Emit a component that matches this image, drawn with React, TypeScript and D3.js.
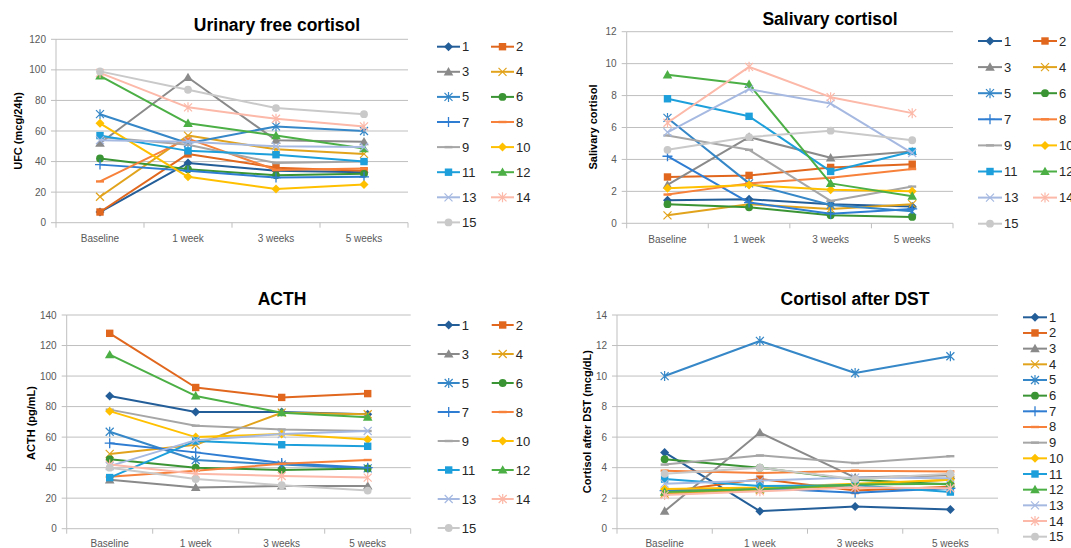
import React from 'react'
import * as d3 from 'd3'

const CATEGORIES = ['Baseline', '1 week', '3 weeks', '5 weeks']
const SERIES = ['1', '2', '3', '4', '5', '6', '7', '8', '9', '10', '11', '12', '13', '14', '15']

const COLORS = [
  '#245E99', '#E0671D', '#8A8A8A', '#E2A31C', '#3587C7', '#3A9433', '#2E7DD2', '#F7813A',
  '#A6A6A6', '#FFC000', '#1C9FDB', '#4BAF45', '#A6B9E1', '#FCB8A8', '#C9C9C9',
]
const MARKERS = [
  'diamond', 'square', 'triangle', 'x', 'asterisk', 'circle', 'plus', 'dash',
  'dash', 'diamond', 'square', 'triangle', 'x', 'asterisk', 'circle',
]

const UFC = [
  [7, 39, 34, 33], [7, 45, 36, 34], [52, 95, 54, 53], [17, 57, 48, 45], [71, 52, 63, 60],
  [42, 35, 31, 32], [38, 34, 29.5, 30], [27, 55, 34.5, 35.5], [56, 51, 39, 40], [65, 30, 22, 25],
  [57, 47, 44.5, 40], [96, 65, 57, 48.5], [54, 53, 50, 49.5], [98, 75.5, 68, 63], [99, 87, 75, 71],
]
const SALIVARY = [
  [1.45, 1.5, 1.2, 1.05], [2.9, 3.0, 3.5, 3.7], [2.4, 5.4, 4.1, 4.5], [0.5, 1.2, 0.9, 1.2], [6.6, 2.5, 1.15, 0.75],
  [1.2, 1.0, 0.5, 0.4], [4.2, 1.3, 0.6, 0.9], [1.8, 2.5, 2.85, 3.4], [5.5, 4.6, 1.4, 2.3], [2.2, 2.4, 2.1, 2.0],
  [7.8, 6.7, 3.25, 4.5], [9.3, 8.7, 2.5, 1.7], [5.7, 8.4, 7.5, 4.4], [6.3, 9.8, 7.9, 6.9], [4.6, 5.4, 5.8, 5.2],
]
const ACTH = [
  [87, 76.5, 76.5, 75], [128, 92.5, 86, 88.5], [32, 27, 28, 28], [49, 55, 76, 75], [63.5, 45, 42, 39.5],
  [45.5, 40, 38.5, 39.5], [56, 50, 43, 40], [34, 38, 42.5, 45], [78, 67.5, 65, 64], [77, 60, 62, 58.5],
  [33.5, 57.5, 55, 54], [114, 87, 76, 73], [41, 58, 62, 64], [42, 36, 34.5, 33.5], [40, 32.5, 28.5, 25],
]
const DST = [
  [5.0, 1.15, 1.45, 1.25], [2.4, 3.25, 2.5, 2.75], [1.15, 6.3, 3.35, 3.5], [2.3, 2.55, 2.85, 3.2], [10, 12.3, 10.2, 11.3],
  [4.55, 4.0, 3.2, 2.9], [2.5, 2.65, 2.35, 2.65], [3.8, 3.65, 3.8, 3.75], [4.2, 4.8, 4.3, 4.75], [2.6, 2.7, 2.95, 3.2],
  [3.25, 2.8, 2.85, 2.4], [2.4, 2.6, 2.9, 2.95], [2.95, 3.15, 3.35, 3.3], [2.2, 2.45, 2.7, 2.65], [3.6, 4.0, 3.25, 3.6],
]

const FONT = '"Liberation Sans", Arial, sans-serif'
const GRID = '#BFBFBF'
const TEXT = '#595959'

function Marker({ type, x, y, color }: { type: string; x: number; y: number; color: string }) {
  const s = 4
  switch (type) {
    case 'diamond':
      return <path d={`M${x},${y - s - 0.5}L${x + s + 0.5},${y}L${x},${y + s + 0.5}L${x - s - 0.5},${y}Z`} fill={color} />
    case 'square':
      return <rect x={x - 3.7} y={y - 3.7} width={7.4} height={7.4} fill={color} />
    case 'triangle':
      return <path d={`M${x},${y - 4.8}L${x + 4.8},${y + 3.6}L${x - 4.8},${y + 3.6}Z`} fill={color} />
    case 'circle':
      return <circle cx={x} cy={y} r={3.9} fill={color} />
    case 'x':
      return <path d={`M${x - s},${y - s}L${x + s},${y + s}M${x - s},${y + s}L${x + s},${y - s}`} stroke={color} strokeWidth={1.2} />
    case 'asterisk':
      return <path d={`M${x - s},${y - s}L${x + s},${y + s}M${x - s},${y + s}L${x + s},${y - s}M${x},${y - s - 1}L${x},${y + s + 1}`} stroke={color} strokeWidth={1.2} />
    case 'plus':
      return <path d={`M${x - s - 1},${y}L${x + s + 1},${y}M${x},${y - s - 1}L${x},${y + s + 1}`} stroke={color} strokeWidth={1.3} />
    case 'dash':
      return <path d={`M${x - s},${y}L${x + s},${y}`} stroke={color} strokeWidth={2.4} />
    default:
      return null
  }
}

interface PanelProps {
  title: string
  yTitle: string
  values: number[][]
  yMax: number
  yStep: number
  x0: number
  x1: number
  yTop: number
  yBottom: number
  titleX: number
  titleY: number
  yTitleX: number
  yTitleY: number
  catY: number
  legendX: number[]
  legendY: number
  legendDy: number
  legendLine: number
}

function Panel(p: PanelProps) {
  const x = d3.scaleBand<string>().domain(CATEGORIES).range([p.x0, p.x1]).padding(0)
  const y = d3.scaleLinear().domain([0, p.yMax]).range([p.yBottom, p.yTop])
  const ticks = d3.range(0, p.yMax + p.yStep / 2, p.yStep)
  const cx = (c: string) => (x(c) as number) + x.bandwidth() / 2
  const line = d3.line<number>().x((_, i) => cx(CATEGORIES[i])).y((d) => y(d))
  const boundaries = d3.range(0, CATEGORIES.length + 1).map((i) => p.x0 + i * x.bandwidth())
  const cols = p.legendX.length

  return (
    <g>
      <text x={p.titleX} y={p.titleY} textAnchor="middle" dominantBaseline="central" fontSize={17.5} fontWeight="bold" fill="#000">
        {p.title}
      </text>
      {ticks.map((t) => (
        <g key={t}>
          {t > 0 && <line x1={p.x0} x2={p.x1} y1={y(t)} y2={y(t)} stroke={GRID} strokeWidth={1} />}
          <line x1={p.x0 - 5} x2={p.x0} y1={y(t)} y2={y(t)} stroke={GRID} strokeWidth={1} />
          <text x={p.x0 - 10} y={y(t)} textAnchor="end" dominantBaseline="central" fontSize={10} fill={TEXT}>
            {t}
          </text>
        </g>
      ))}
      <line x1={p.x0} x2={p.x0} y1={p.yTop} y2={p.yBottom} stroke={GRID} strokeWidth={1} />
      <line x1={p.x0} x2={p.x1} y1={p.yBottom} y2={p.yBottom} stroke={GRID} strokeWidth={1} />
      {boundaries.map((b, i) => (
        <line key={i} x1={b} x2={b} y1={p.yBottom} y2={p.yBottom + 5} stroke={GRID} strokeWidth={1} />
      ))}
      {CATEGORIES.map((c) => (
        <text key={c} x={cx(c)} y={p.catY} textAnchor="middle" dominantBaseline="central" fontSize={10} fill={TEXT}>
          {c}
        </text>
      ))}
      <text
        transform={`translate(${p.yTitleX},${p.yTitleY}) rotate(-90)`}
        textAnchor="middle"
        dominantBaseline="central"
        fontSize={11}
        fontWeight="bold"
        fill="#000"
      >
        {p.yTitle}
      </text>
      {p.values.map((vals, si) => (
        <g key={si}>
          <path d={line(vals) || ''} fill="none" stroke={COLORS[si]} strokeWidth={2} strokeLinejoin="round" />
          {vals.map((v, i) => (
            <Marker key={i} type={MARKERS[si]} x={cx(CATEGORIES[i])} y={y(v)} color={COLORS[si]} />
          ))}
        </g>
      ))}
      {SERIES.map((name, si) => {
        const col = si % cols
        const row = Math.floor(si / cols)
        const lx = p.legendX[col]
        const ly = p.legendY + row * p.legendDy
        return (
          <g key={name}>
            <line x1={lx} x2={lx + p.legendLine} y1={ly} y2={ly} stroke={COLORS[si]} strokeWidth={2} />
            <Marker type={MARKERS[si]} x={lx + p.legendLine / 2} y={ly} color={COLORS[si]} />
            <text x={lx + p.legendLine + 2} y={ly} dominantBaseline="central" fontSize={13} fill="#262626">
              {name}
            </text>
          </g>
        )
      })}
    </g>
  )
}

export default function App() {
  return (
    <svg
      width={1071}
      height={548}
      style={{ position: 'absolute', left: 0, top: 0, background: '#fff', fontFamily: FONT }}
    >
      <Panel
        title="Urinary free cortisol"
        yTitle="UFC (mcg/24h)"
        values={UFC}
        yMax={120}
        yStep={20}
        x0={56}
        x1={408}
        yTop={39.3}
        yBottom={222.7}
        titleX={277}
        titleY={25}
        yTitleX={18}
        yTitleY={131}
        catY={238}
        legendX={[437, 491]}
        legendY={46.7}
        legendDy={25.1}
        legendLine={23}
      />
      <Panel
        title="Salivary cortisol"
        yTitle="Salivary cortisol"
        values={SALIVARY}
        yMax={12}
        yStep={2}
        x0={626.7}
        x1={953}
        yTop={31.7}
        yBottom={223.3}
        titleX={830}
        titleY={19}
        yTitleX={593}
        yTitleY={127}
        catY={239}
        legendX={[978, 1033]}
        legendY={41}
        legendDy={26.1}
        legendLine={24}
      />
      <Panel
        title="ACTH"
        yTitle="ACTH (pg/mL)"
        values={ACTH}
        yMax={140}
        yStep={20}
        x0={66.7}
        x1={410.7}
        yTop={315}
        yBottom={528.7}
        titleX={282}
        titleY={299}
        yTitleX={30.7}
        yTitleY={423}
        catY={543.3}
        legendX={[437.7, 491.7]}
        legendY={325}
        legendDy={29}
        legendLine={22}
      />
      <Panel
        title="Cortisol after DST"
        yTitle="Cortisol after DST (mcg/dL)"
        values={DST}
        yMax={14}
        yStep={2}
        x0={617}
        x1={998}
        yTop={315}
        yBottom={528.7}
        titleX={855}
        titleY={299}
        yTitleX={586.7}
        yTitleY={421.7}
        catY={543.3}
        legendX={[1023]}
        legendY={317.3}
        legendDy={15.67}
        legendLine={24}
      />
    </svg>
  )
}
